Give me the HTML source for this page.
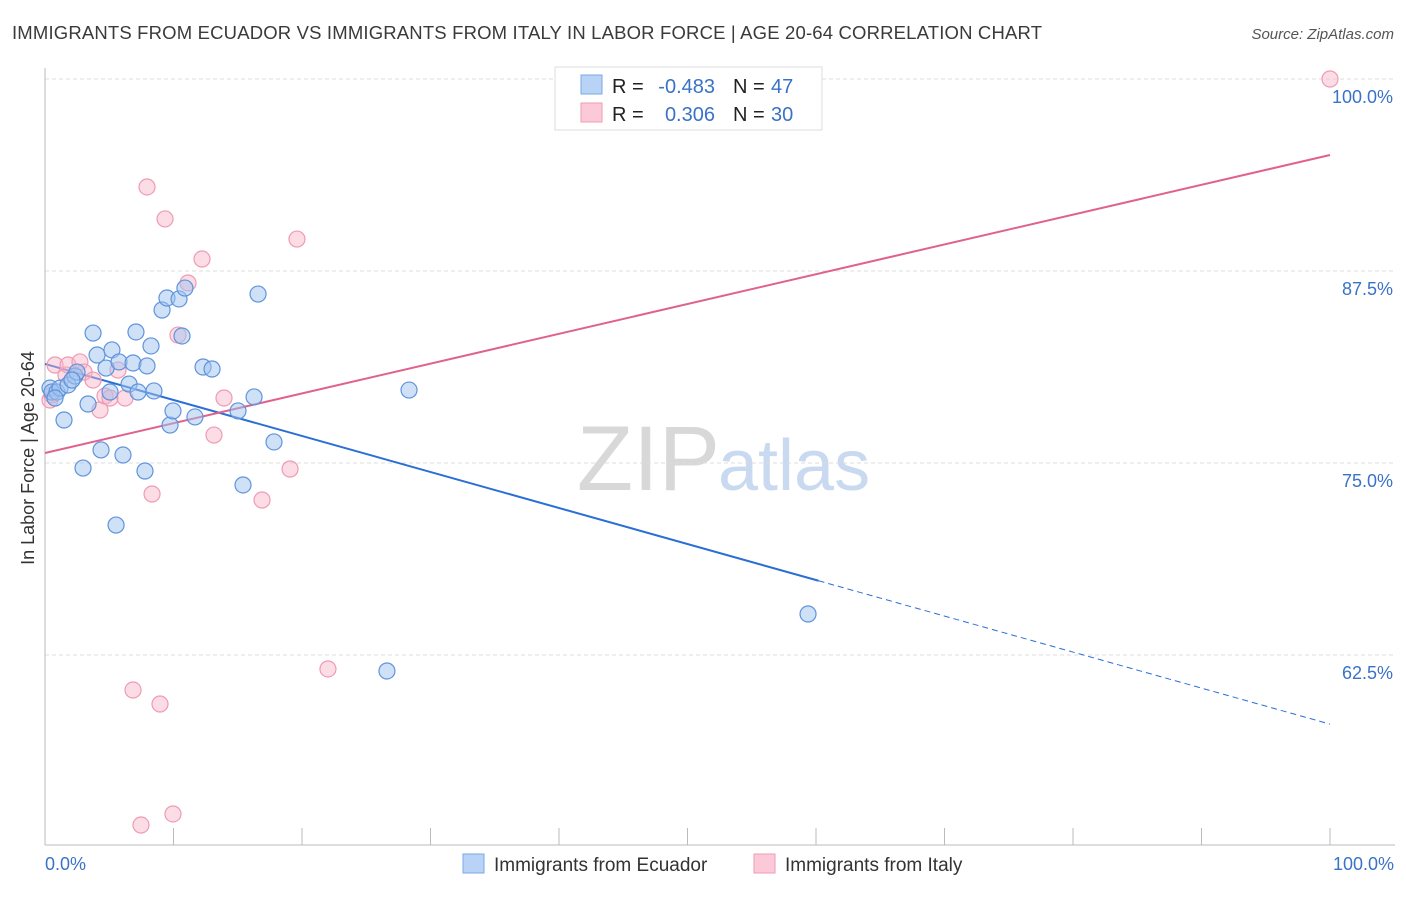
<!DOCTYPE html>
<html><head><meta charset="utf-8"><style>
body{margin:0;background:#fff;font-family:"Liberation Sans",sans-serif;}
svg text{font-family:"Liberation Sans",sans-serif;}
</style></head><body>
<svg id="chart" width="1406" height="892">
<text x="12" y="39" font-size="18.5" fill="#3a3a3a" textLength="1030">IMMIGRANTS FROM ECUADOR VS IMMIGRANTS FROM ITALY IN LABOR FORCE | AGE 20-64 CORRELATION CHART</text>
<text x="1394" y="39" font-size="15" font-style="italic" fill="#555" text-anchor="end">Source: ZipAtlas.com</text>
<text x="720" y="490" font-size="92" font-family="Liberation Serif" fill="#d8d8d8" text-anchor="end">ZIP</text>
<text x="718" y="490" font-size="72" fill="#c9daf0">atlas</text>
<g id="grid"></g><g id="axes"></g><g id="lines"></g><g id="pts"></g>
<text transform="translate(34,458) rotate(-90)" font-size="18" fill="#333" text-anchor="middle">In Labor Force | Age 20-64</text>
<text x="45" y="870" font-size="18" fill="#3a72c8">0.0%</text>
<text x="1394" y="870" font-size="18" fill="#3a72c8" text-anchor="end">100.0%</text>
<g>
<rect x="555" y="67" width="267" height="63" fill="#fff" stroke="#ddd"/>
<rect x="581" y="75" width="21" height="19" fill="#b8d3f5" stroke="#7aa8e6"/>
<rect x="581" y="103" width="21" height="19" fill="#fbc9d8" stroke="#f09ab5"/>
<text x="612" y="93" font-size="20" fill="#222">R =</text>
<text x="715" y="93" font-size="20" fill="#3a72c8" text-anchor="end">-0.483</text>
<text x="733" y="93" font-size="20" fill="#222">N =</text>
<text x="771" y="93" font-size="20" fill="#3a72c8">47</text>
<text x="612" y="121" font-size="20" fill="#222">R =</text>
<text x="715" y="121" font-size="20" fill="#3a72c8" text-anchor="end">0.306</text>
<text x="733" y="121" font-size="20" fill="#222">N =</text>
<text x="771" y="121" font-size="20" fill="#3a72c8">30</text>
</g>
<g>
<rect x="463" y="854" width="21" height="19" fill="#b8d3f5" stroke="#7aa8e6"/>
<text x="494" y="871" font-size="19" fill="#333">Immigrants from Ecuador</text>
<rect x="754" y="854" width="21" height="19" fill="#fbc9d8" stroke="#f09ab5"/>
<text x="785" y="871" font-size="19" fill="#333">Immigrants from Italy</text>
</g>
</svg>
<script>
const ecuadorX=[0.39,0.54,0.93,1.17,1.48,1.79,2.33,2.49,2.96,3.35,3.74,4.05,4.36,4.75,5.06,5.21,5.53,5.76,6.07,6.54,6.85,7.08,7.24,7.78,7.94,8.25,8.48,9.11,9.49,9.73,9.96,10.43,10.66,10.89,11.67,12.30,13.0,15.02,15.41,16.27,16.58,17.82,26.61,28.33,59.38,0.78,2.10];
const ecuadorY=[79.88,79.62,79.62,79.88,77.80,80.08,80.66,80.92,74.67,78.84,83.46,82.03,75.85,81.18,79.62,82.36,70.96,81.58,75.52,80.14,81.51,83.53,79.62,74.48,81.32,82.62,79.69,84.96,85.74,77.47,78.39,85.68,83.27,86.39,78.0,81.25,81.12,78.39,73.57,79.30,86.0,76.37,61.46,79.75,65.17,79.23,80.40];
const italyX=[0.39,0.54,0.78,1.63,1.79,2.72,3.04,3.74,4.28,4.67,5.06,5.68,6.23,6.85,7.94,8.33,8.95,9.34,9.96,10.35,11.13,12.22,13.15,13.93,16.89,19.07,19.61,22.02,7.47,100];
const italyY=[79.10,79.43,81.38,80.73,81.38,81.58,80.92,80.40,78.45,79.36,79.23,81.05,79.23,60.22,92.97,72.98,59.31,90.89,52.15,83.33,86.72,88.28,76.82,79.23,72.59,74.61,89.58,61.59,51.43,100];
const yTicks=[100,87.5,75,62.5];
const yTickLabels=["100.0%","87.5%","75.0%","62.5%"];
const xTicks=[0,10,20,30,40,50,60,70,80,90,100];
const ecuadorTrend=[81.45,58.0]; const ecuadorSolidEnd=60.2;
const italyTrend=[75.65,95.05];
const sx=v=>45+v*12.85, sy=v=>79+(100-v)*15.36;
const NS="http://www.w3.org/2000/svg";
function mk(t,a,p){const e=document.createElementNS(NS,t);for(const k in a)e.setAttribute(k,a[k]);p.appendChild(e);return e;}
const grid=document.getElementById('grid'),axes=document.getElementById('axes'),lines=document.getElementById('lines'),pts=document.getElementById('pts');
yTicks.forEach((v,i)=>{
 const l=mk('line',{x1:45,x2:1395,y1:sy(v),y2:sy(v),stroke:'#ddd','stroke-dasharray':'4,3'},grid);
 
 
 const t=mk('text',{x:1393,y:sy(v)+24,'font-size':18,fill:'#3a72c8','text-anchor':'end'},grid);
 t.textContent=yTickLabels[i];
 
 
});
const ya=mk('line',{x1:45,x2:45,y1:68,y2:845,stroke:'#bbb'},axes);


const xa=mk('line',{x1:45,x2:1395,y1:845,y2:845,stroke:'#bbb'},axes);


xTicks.forEach(v=>{const t=mk('line',{x1:sx(v),x2:sx(v),y1:828,y2:845,stroke:'#bbb'},axes);
 
 });
const yAt=(tr,x)=>tr[0]+(tr[1]-tr[0])*x/100;
const b1=mk('line',{x1:sx(0),y1:sy(ecuadorTrend[0]),x2:sx(ecuadorSolidEnd),y2:sy(yAt(ecuadorTrend,ecuadorSolidEnd)),stroke:'#2a6fd6','stroke-width':2},lines);


const b2=mk('line',{x1:sx(ecuadorSolidEnd),y1:sy(yAt(ecuadorTrend,ecuadorSolidEnd)),x2:sx(100),y2:sy(ecuadorTrend[1]),stroke:'#2a6fd6','stroke-width':1,'stroke-dasharray':'6,4'},lines);


const p1=mk('line',{x1:sx(0),y1:sy(italyTrend[0]),x2:sx(100),y2:sy(italyTrend[1]),stroke:'#e0628c','stroke-width':2},lines);


italyX.forEach((x,i)=>{const c=mk('circle',{cx:sx(x),cy:sy(italyY[i]),r:8,fill:'rgba(248,180,200,0.45)',stroke:'#ef9ab5','stroke-width':1.2},pts);
 
 });
ecuadorX.forEach((x,i)=>{const c=mk('circle',{cx:sx(x),cy:sy(ecuadorY[i]),r:8,fill:'rgba(160,195,240,0.5)',stroke:'#5f93dc','stroke-width':1.2},pts);
 
 });
</script>
</body></html>
